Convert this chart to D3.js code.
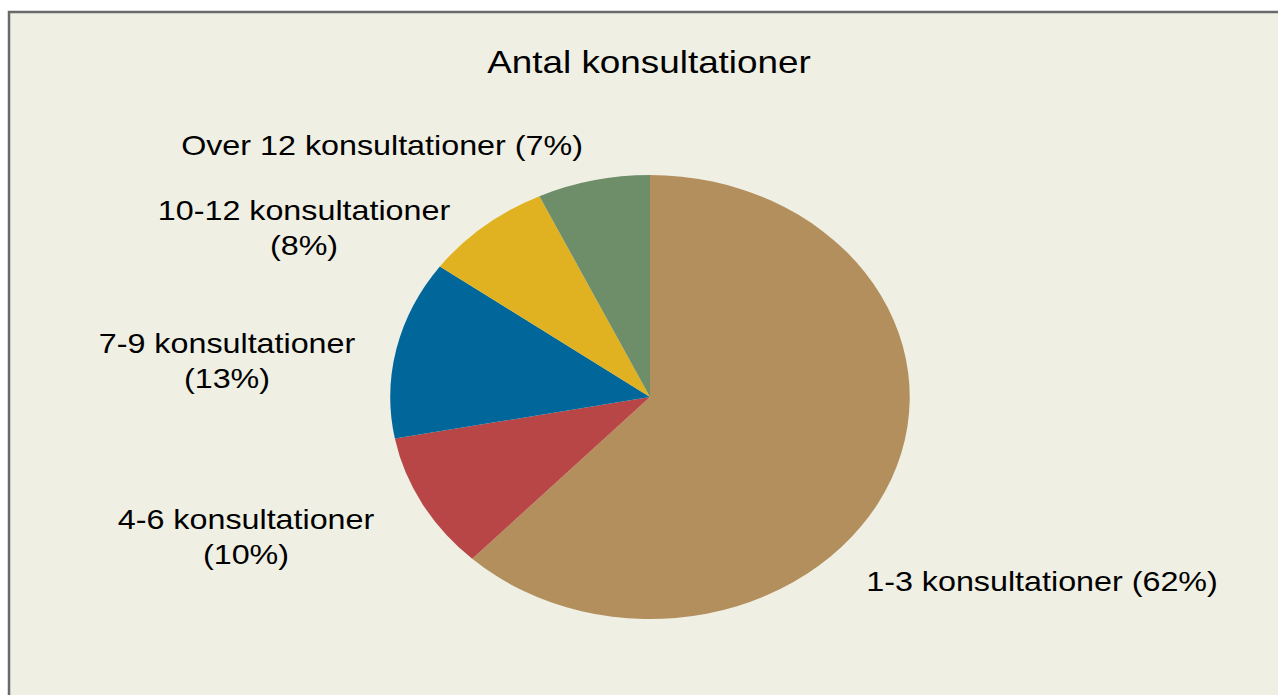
<!DOCTYPE html>
<html><head><meta charset="utf-8">
<script src="https://cdn.jsdelivr.net/npm/d3@7"></script>
<style>html,body{margin:0;padding:0;background:#fff;overflow:hidden}</style>
</head><body>
<script>
const title = "Antal konsultationer";
const categories = ["1-3 konsultationer", "4-6 konsultationer", "7-9 konsultationer", "10-12 konsultationer", "Over 12 konsultationer"];
const values = [62, 10, 13, 8, 7];
const colors = ["#B38F5E", "#B84646", "#016699", "#E0B120", "#6E8E69"];
// label lines (layout)
const labelLines = [
  ["1-3 konsultationer (62%)"],
  ["4-6 konsultationer", "(10%)"],
  ["7-9 konsultationer", "(13%)"],
  ["10-12 konsultationer", "(8%)"],
  ["Over 12 konsultationer (7%)"]
];
const labelPos = [[1042, 581], [246, 519], [227, 343], [304, 210], [382, 145]];

const W = 1278, H = 695, sx = 1.17;
const svg = d3.select("body").append("svg").attr("width", W).attr("height", H);
svg.append("rect").attr("x", 9).attr("y", 12).attr("width", 1300).attr("height", 720)
  .attr("fill", "#EFEFE4").attr("stroke", "#6a6a6a").attr("stroke-width", 2.5);

const cx = 650, cy = 397, r = 222;
const pie = d3.pie().sort(null).value(d => d.v);
const arc = d3.arc().innerRadius(0).outerRadius(r);
const data = categories.map((c, i) => ({c, v: values[i], i}));
const g = svg.append("g").attr("transform", `translate(${cx},${cy}) scale(${sx},1)`);
g.selectAll("path").data(pie(data)).join("path")
  .attr("d", arc).attr("fill", d => colors[d.data.i]);

const font = "'Liberation Sans', Arial, sans-serif";
svg.append("text").attr("transform", `translate(649,62) scale(${sx},1)`)
  .attr("text-anchor", "middle").attr("dy", "0.35em")
  .attr("font-family", font).attr("font-size", 31.5).attr("fill", "#000").text(title);

labelLines.forEach((lines, i) => {
  const [x, y] = labelPos[i];
  lines.forEach((t, j) => {
    svg.append("text").attr("transform", `translate(${x},${y + j * 35}) scale(${sx},1)`)
      .attr("text-anchor", "middle").attr("dy", "0.35em")
      .attr("font-family", font).attr("font-size", 27.6).attr("fill", "#000").text(t);
  });
});
</script>
</body></html>
